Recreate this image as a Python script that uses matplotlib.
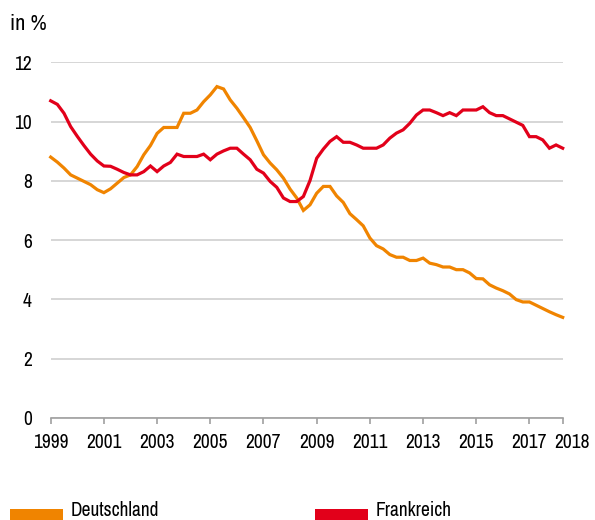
import matplotlib
matplotlib.use("Agg")
import matplotlib.pyplot as plt
from matplotlib import font_manager
from matplotlib.patches import Rectangle
from matplotlib.transforms import ScaledTranslation
import numpy as np

# Quarterly unemployment rates, 1999Q1 - 2018Q2
start_year = 1999
deutschland = [8.8, 8.63, 8.43, 8.2, 8.09, 7.98, 7.87, 7.7, 7.6, 7.73,
               7.92, 8.11, 8.2, 8.48, 8.88, 9.19, 9.6, 9.8, 9.8, 9.8,
               10.28, 10.28, 10.39, 10.67, 10.9, 11.18, 11.1, 10.73, 10.45, 10.13,
               9.8, 9.35, 8.88, 8.6, 8.37, 8.09, 7.72, 7.42, 7.0, 7.19,
               7.58, 7.81, 7.81, 7.49, 7.27, 6.89, 6.69, 6.48, 6.07, 5.81,
               5.7, 5.51, 5.42, 5.42, 5.31, 5.31, 5.39, 5.22, 5.17, 5.09,
               5.09, 5.0, 5.0, 4.89, 4.7, 4.69, 4.49, 4.38, 4.29, 4.18,
               3.99, 3.91, 3.91, 3.8, 3.69, 3.58, 3.48, 3.39]
frankreich = [10.7, 10.58, 10.28, 9.83, 9.5, 9.19, 8.9, 8.67, 8.5, 8.49,
              8.39, 8.28, 8.2, 8.2, 8.31, 8.5, 8.31, 8.5, 8.62, 8.9,
              8.82, 8.82, 8.82, 8.9, 8.71, 8.9, 9.01, 9.1, 9.1, 8.9,
              8.71, 8.39, 8.26, 7.98, 7.78, 7.42, 7.3, 7.3, 7.47, 8.01,
              8.76, 9.07, 9.33, 9.49, 9.3, 9.3, 9.21, 9.1, 9.1, 9.1,
              9.21, 9.44, 9.61, 9.72, 9.94, 10.22, 10.39, 10.39, 10.3, 10.2,
              10.3, 10.2, 10.39, 10.39, 10.39, 10.5, 10.3, 10.2, 10.2, 10.09,
              9.98, 9.87, 9.49, 9.49, 9.38, 9.1, 9.21, 9.1]
series_names = ["Deutschland", "Frankreich"]
colors = ["#F08400", "#E2001A"]
x_tick_labels = ["1999", "2001", "2003", "2005", "2007", "2009", "2011",
                 "2013", "2015", "2017", "2018"]
y_ticks = [0, 2, 4, 6, 8, 10, 12]
unit_label = "in %"

# prefer a narrow/condensed sans if one is installed
names = sorted({f.name for f in font_manager.fontManager.ttflist})
narrow = [n for n in names if ("Narrow" in n or "Condensed" in n) and "Mono" not in n and "Serif" not in n]
font = narrow[:1] + ["Roboto", "DejaVu Sans"]
plt.rcParams["font.family"] = font
plt.rcParams["font.stretch"] = "condensed"
fs_tick = 14 if narrow else 13.5

W, H = 595, 520
fig = plt.figure(figsize=(W / 100, H / 100), dpi=100)
ax = fig.add_axes([50.7 / W, 102.2 / H, 512 / W, 355.5 / H])

t = start_year + np.arange(len(deutschland)) / 4.0
for vals, name, c in zip([deutschland, frankreich], series_names, colors):
    ax.plot(t, vals, color=c, lw=2.3, solid_joinstyle="miter", label=name, clip_on=False, zorder=3)

ax.set_xlim(t[0], t[-1])
ax.set_ylim(0, 12)
ax.set_yticks(y_ticks)
ax.set_yticklabels([str(v) for v in y_ticks])
ax.grid(axis="y", color="#cfcfcf", lw=1.2)
ax.set_axisbelow(True)
for s in ["left", "right", "top"]:
    ax.spines[s].set_visible(False)
ax.spines["bottom"].set_color("#a0a0a0")
ax.spines["bottom"].set_linewidth(1.2)
ax.spines["bottom"].set_zorder(2)

xt = [int(l) for l in x_tick_labels[:-1]] + [t[-1]]
ax.set_xticks(xt)
ax.set_xticklabels(x_tick_labels)
ax.tick_params(axis="x", length=4.5, width=1.2, color="#a0a0a0", pad=6.5, labelsize=fs_tick)
ax.tick_params(axis="y", length=0, pad=13.5, labelsize=fs_tick)
# last label sits a little to the right of its tick
last = ax.get_xticklabels()[-1]
last.set_transform(last.get_transform() + ScaledTranslation(9.5 / 100, 0, fig.dpi_scale_trans))

fig.text(10 / W, 1 - 30 / H, unit_label, fontsize=fs_tick + 2, ha="left", va="baseline")

# legend
legend_x = [9.5, 315]
for lx, name, c in zip(legend_x, series_names, colors):
    fig.add_artist(Rectangle((lx / W, 0), 53 / W, 11.5 / H, transform=fig.transFigure,
                             color=c, lw=0))
    fig.text((lx + 61) / W, 4.5 / H, name, fontsize=fs_tick, ha="left", va="baseline")

fig.savefig("out.png", dpi=100)
